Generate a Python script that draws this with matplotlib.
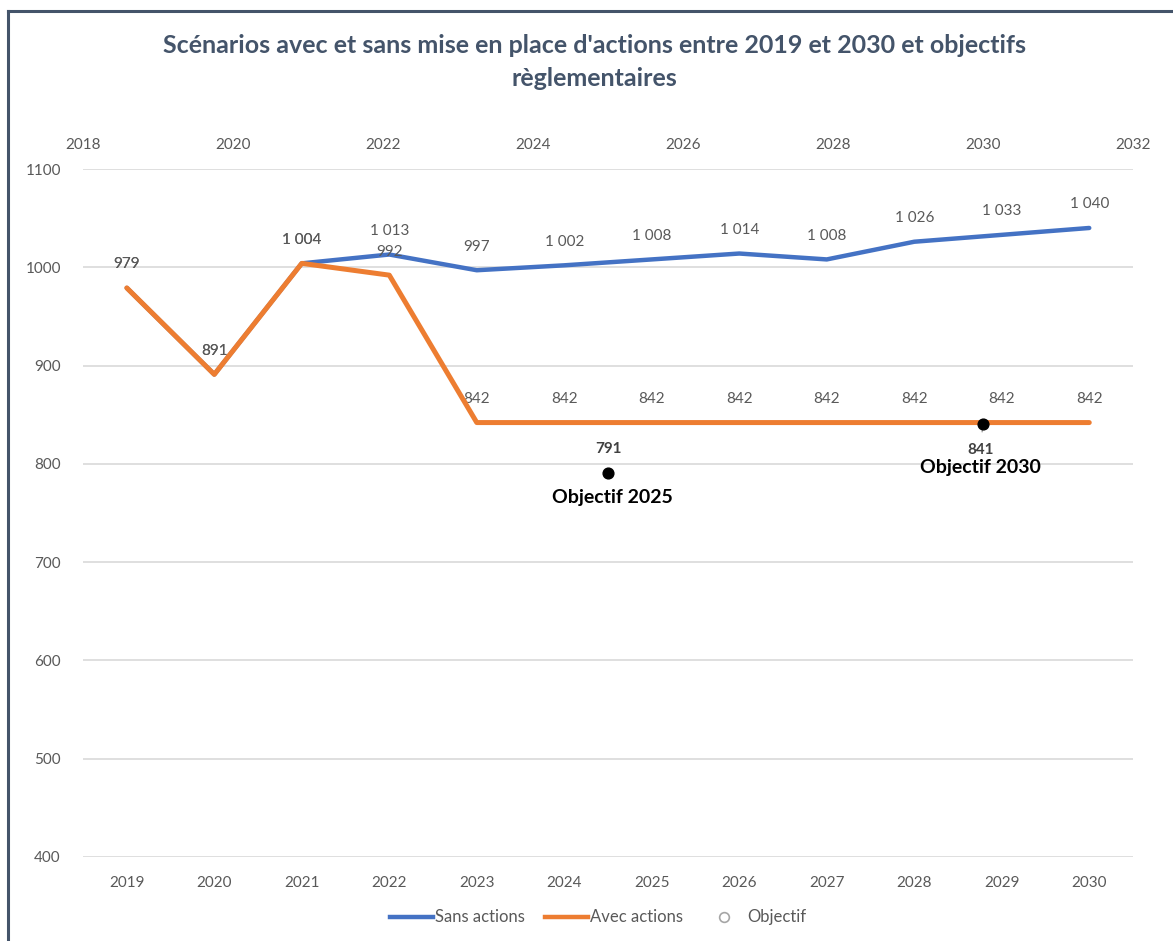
import matplotlib.pyplot as plt
from matplotlib.lines import Line2D

plt.rcParams['font.family'] = ['Lato', 'DejaVu Sans']

years = [2019, 2020, 2021, 2022, 2023, 2024, 2025, 2026, 2027, 2028, 2029, 2030]
sans_actions = [979, 891, 1004, 1013, 997, 1002, 1008, 1014, 1008, 1026, 1033, 1040]
avec_actions = [979, 891, 1004, 992, 842, 842, 842, 842, 842, 842, 842, 842]
objectif_years = [2025, 2030]
objectif_values = [791, 841]
objectif_names = ['Objectif 2025', 'Objectif 2030']

BLUE = '#4472C4'
ORANGE = '#ED7D31'
GREY = '#595959'
SLATE = '#44546A'


def fr(v):
    # French thousands separator
    return f'{v:,}'.replace(',', ' ')


fig = plt.figure(figsize=(11.73, 9.41), dpi=100)
ax = fig.add_axes([0.0708, 0.0893, 0.8951, 0.7311])

x = list(range(len(years)))
ax.plot(x, sans_actions, color=BLUE, lw=3.2, solid_capstyle='round', zorder=3)
ax.plot(x, avec_actions, color=ORANGE, lw=3.6, solid_capstyle='round', zorder=4)

for i, v in enumerate(sans_actions):
    ax.annotate(fr(v), (i, v), xytext=(0, 17), textcoords='offset points',
                ha='center', va='center', fontsize=11, color=GREY)
for i, v in enumerate(avec_actions):
    ax.annotate(fr(v), (i, v), xytext=(0, 17), textcoords='offset points',
                ha='center', va='center', fontsize=11, color=GREY)

ax.set_xlim(-0.5, len(years) - 0.5)
ax.set_ylim(400, 1100)
ax.set_yticks(range(400, 1101, 100))
ax.set_xticks(x)
ax.set_xticklabels([str(y) for y in years])
ax.grid(axis='y', color='#D9D9D9', lw=1.2)
ax.set_axisbelow(True)
for s in ax.spines.values():
    s.set_visible(False)
ax.tick_params(length=0, labelsize=11, labelcolor=GREY)
ax.tick_params(axis='x', pad=14)
ax.tick_params(axis='y', pad=16)

# secondary value axis for the regulatory targets
ax2 = ax.twiny()
ax2.set_xlim(2018, 2032)
ax2.set_xticks(range(2018, 2033, 2))
for s in ax2.spines.values():
    s.set_visible(False)
ax2.tick_params(length=0, labelsize=11, labelcolor=GREY, pad=12)
ax2.scatter(objectif_years, objectif_values, s=60, color='black', zorder=6)

# 2025 target: value above, name below
ax2.annotate(fr(objectif_values[0]), (objectif_years[0], objectif_values[0]),
             xytext=(0, 17), textcoords='offset points', ha='center', va='center',
             fontsize=11, fontweight='bold', color='#404040')
ax2.annotate(objectif_names[0], (objectif_years[0], objectif_values[0]),
             xytext=(3, -18), textcoords='offset points', ha='center', va='center',
             fontsize=14, fontweight='bold', color='black')
# 2030 target: value and name below with a short leader
ax2.annotate(fr(objectif_values[1]), (objectif_years[1], objectif_values[1]),
             xytext=(-2, -19), textcoords='offset points', ha='center', va='center',
             fontsize=11, fontweight='bold', color='#404040',
             arrowprops=dict(arrowstyle='-', color='#A6A6A6', lw=1, shrinkA=6, shrinkB=2))
ax2.annotate(objectif_names[1], (objectif_years[1], objectif_values[1]),
             xytext=(-2, -32), textcoords='offset points', ha='center', va='center',
             fontsize=14, fontweight='bold', color='black')

fig.text(0.507, 0.952, "Scénarios avec et sans mise en place d'actions entre 2019 et 2030 et objectifs",
         ha='center', va='center', fontsize=18, fontweight='bold', color=SLATE)
fig.text(0.507, 0.917, 'règlementaires', ha='center', va='center',
         fontsize=18, fontweight='bold', color=SLATE)

handles = [
    Line2D([], [], color=BLUE, lw=3.2),
    Line2D([], [], color=ORANGE, lw=3.2),
    Line2D([], [], color='#A6A6A6', marker='o', ls='none', markerfacecolor='white',
           markersize=7, markeredgewidth=1.2),
]
fig.legend(handles, ['Sans actions', 'Avec actions', 'Objectif'], loc='center',
           bbox_to_anchor=(0.51, 0.025), ncol=3, frameon=False, fontsize=12,
           labelcolor=GREY, handlelength=2.6, handletextpad=0.1, columnspacing=1.2)

# frame edges along the top and left
fig.add_artist(Line2D([0.0068, 1.0], [0.988, 0.988], color=SLATE, lw=2.2, transform=fig.transFigure))
fig.add_artist(Line2D([0.0068, 0.0068], [0.0, 0.988], color=SLATE, lw=2.2, transform=fig.transFigure))

fig.savefig('out.png', dpi=100)
